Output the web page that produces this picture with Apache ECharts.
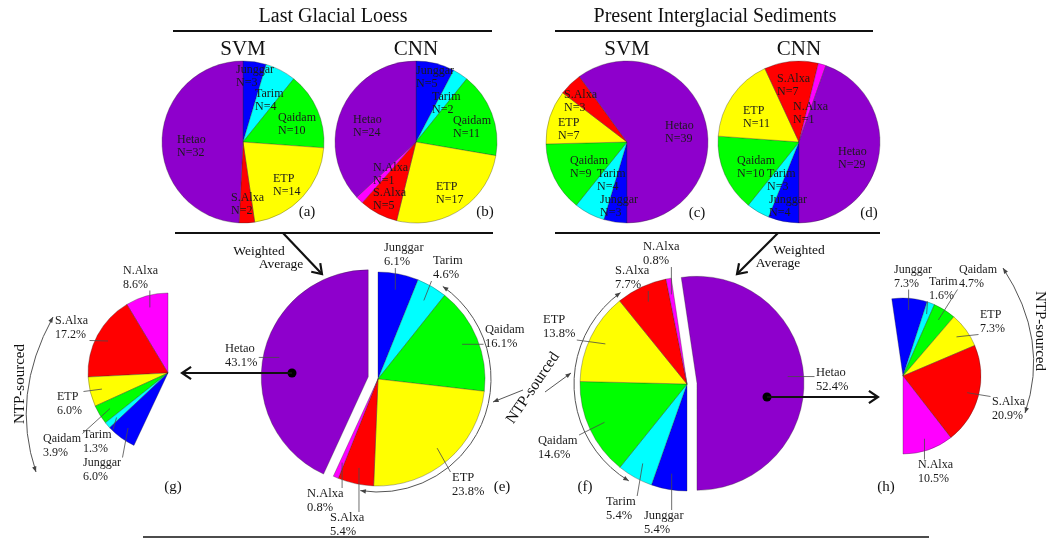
<!DOCTYPE html>
<html>
<head>
<meta charset="utf-8">
<script src="https://cdn.jsdelivr.net/npm/echarts@6/dist/echarts.min.js"></script>
<style>
  html, body { margin: 0; padding: 0; background: #fff; }
  #main { width: 1052px; height: 541px; }
</style>
</head>
<body>
<div id="main"></div>
<script>
// ---- source counts from the two classifiers (N per source region) ----
const loessSvmNames  = ['Junggar', 'Tarim', 'Qaidam', 'ETP', 'S.Alxa', 'Hetao'];
const loessSvmCounts = [3, 4, 10, 14, 2, 32];
const loessCnnNames  = ['Junggar', 'Tarim', 'Qaidam', 'ETP', 'S.Alxa', 'N.Alxa', 'Hetao'];
const loessCnnCounts = [5, 2, 11, 17, 5, 1, 24];
const modernSvmNames  = ['Junggar', 'Tarim', 'Qaidam', 'ETP', 'S.Alxa', 'Hetao'];
const modernSvmCounts = [3, 4, 9, 7, 3, 39];
const modernCnnNames  = ['Junggar', 'Tarim', 'Qaidam', 'ETP', 'S.Alxa', 'N.Alxa', 'Hetao'];
const modernCnnCounts = [4, 3, 10, 11, 7, 1, 29];

// ---- weighted averages (%) ----
const loessAvgNames  = ['Junggar', 'Tarim', 'Qaidam', 'ETP', 'S.Alxa', 'N.Alxa', 'Hetao'];
const loessAvgPct    = [6.1, 4.6, 16.1, 23.8, 5.4, 0.8, 43.1];
const modernAvgNames = ['Junggar', 'Tarim', 'Qaidam', 'ETP', 'S.Alxa', 'N.Alxa', 'Hetao'];
const modernAvgPct   = [5.4, 5.4, 14.6, 13.8, 7.7, 0.8, 52.4];

// ---- Hetao share split into its NTP-sourced parts (%) ----
const loessHetaoNames  = ['N.Alxa', 'S.Alxa', 'ETP', 'Qaidam', 'Tarim', 'Junggar'];
const loessHetaoPct    = [8.6, 17.2, 6.0, 3.9, 1.3, 6.0];
const modernHetaoNames = ['Junggar', 'Tarim', 'Qaidam', 'ETP', 'S.Alxa', 'N.Alxa'];
const modernHetaoPct   = [7.3, 1.6, 4.7, 7.3, 20.9, 10.5];

const PALETTE = {
  'Junggar': '#0000ff', 'Tarim': '#00ffff', 'Qaidam': '#00ff00', 'ETP': '#ffff00',
  'S.Alxa': '#ff0000', 'N.Alxa': '#ff00ff', 'Hetao': '#8e00cc'
};
const SERIF = '"Liberation Serif", "Times New Roman", serif';
const RAD = Math.PI / 180;
const EXPLODE = 10;
const sum = a => a.reduce((s, v) => s + v, 0);

// ---- layout of each pie: centre, radius, start angle, label anchors (dx, dy from centre) ----
const pies = [
  { names: loessSvmNames, values: loessSvmCounts, fmt: 'n', center: [243, 142], r: 81,
    startAngle: 90, clockwise: true, fontSize: 12, lineHeight: 13,
    spots: [[-7, -66], [12, -42], [35, -18], [30, 43], [-12, 62], [-66, 4]] },
  { names: loessCnnNames, values: loessCnnCounts, fmt: 'n', center: [416, 142], r: 81,
    startAngle: 90, clockwise: true, fontSize: 12, lineHeight: 13,
    spots: [[0, -65], [16, -39], [37, -15], [20, 51], [-43, 57], [-43, 32], [-63, -16]] },
  { names: modernSvmNames, values: modernSvmCounts, fmt: 'n', center: [627, 142], r: 81,
    startAngle: -90, clockwise: true, fontSize: 12, lineHeight: 13,
    spots: [[-27, 64], [-30, 38], [-57, 25], [-69, -13], [-63, -41], [38, -10]] },
  { names: modernCnnNames, values: modernCnnCounts, fmt: 'n', center: [799, 142], r: 81,
    startAngle: -90, clockwise: true, fontSize: 12, lineHeight: 13,
    spots: [[-30, 64], [-32, 38], [-62, 25], [-56, -25], [-22, -57], [-6, -29], [39, 16]] },
  { names: loessAvgNames, values: loessAvgPct, fmt: 'p', center: [378, 379], r: 107,
    startAngle: 90, clockwise: true, explode: 'Hetao', leaders: true, fontSize: 12.5, lineHeight: 14,
    spots: [[6, -124], [55, -111], [107, -42], [74, 106], [-48, 146], [-71, 122], [-153, -23]] },
  { names: modernAvgNames, values: modernAvgPct, fmt: 'p', center: [687, 384], r: 107,
    startAngle: -90, clockwise: true, explode: 'Hetao', leaders: true, fontSize: 12.5, lineHeight: 14,
    spots: [[-43, 139], [-81, 125], [-149, 64], [-144, -57], [-72, -106], [-44, -130], [129, -4]] },
  { names: loessHetaoNames, values: loessHetaoPct, fmt: 'p', center: [168, 373], r: 80,
    startAngle: 90, endAngle: 90 + sum(loessHetaoPct) * 3.6, clockwise: false, leaders: true,
    fontSize: 12, lineHeight: 13.5,
    spots: [[-45, -95], [-113, -45], [-111, 31], [-125, 73], [-85, 69], [-85, 97]] },
  { names: modernHetaoNames, values: modernHetaoPct, fmt: 'p', center: [903, 376], r: 78,
    startAngle: -90 + sum(modernHetaoPct) * 3.6, endAngle: -90, clockwise: true, leaders: true,
    fontSize: 12, lineHeight: 13.5,
    spots: [[-9, -99], [26, -87], [56, -99], [77, -54], [89, 33], [15, 96]] }
];

// mid angle of every slice, in degrees clockwise from 12 o'clock
function midAngles(p) {
  const total = sum(p.values);
  const span = p.endAngle == null ? 360 : Math.abs(p.endAngle - p.startAngle);
  const dir = p.clockwise ? 1 : -1;
  let a = 90 - p.startAngle;
  return p.values.map(v => {
    const w = v / total * span;
    const m = a + dir * w / 2;
    a += dir * w;
    return m;
  });
}

function labelText(p, i) {
  const v = p.values[i];
  return p.fmt === 'n' ? [p.names[i], 'N=' + v] : [p.names[i], v.toFixed(1) + '%'];
}

// part: undefined = whole pie, 'rest' = all but the pulled-out slice, 'lifted' = only that slice
function buildSeries(p, part) {
  const mids = midAngles(p);
  let center = p.center;
  if (part === 'lifted') {
    const m = mids[p.names.indexOf(p.explode)] * RAD;
    center = [p.center[0] + EXPLODE * Math.sin(m), p.center[1] - EXPLODE * Math.cos(m)];
  }
  const shown = n => !part || (part === 'rest' ? n !== p.explode : n === p.explode);
  return {
    type: 'pie',
    center: center,
    radius: [0, p.r],
    startAngle: p.startAngle,
    endAngle: p.endAngle == null ? 'auto' : p.endAngle,
    clockwise: p.clockwise,
    avoidLabelOverlap: false,
    animation: false,
    silent: true,
    itemStyle: { borderColor: 'rgba(40,40,40,0.55)', borderWidth: 0.6 },
    label: {
      show: true,
      position: 'outside',
      fontFamily: SERIF,
      fontSize: p.fontSize,
      lineHeight: p.lineHeight,
      color: '#1a1a1a',
      overflow: 'none',
      formatter: d => labelText(p, d.dataIndex).join('\n')
    },
    labelLine: { show: false },
    labelLayout: function (d) {
      const i = d.dataIndex;
      return {
        x: p.center[0] + p.spots[i][0],
        y: p.center[1] + p.spots[i][1],
        align: 'left', verticalAlign: 'middle'
      };
    },
    data: p.names.map((n, i) => ({
      name: n,
      value: p.values[i],
      itemStyle: shown(n) ? { color: PALETTE[n] } : { color: 'rgba(0,0,0,0)', borderWidth: 0 },
      label: { show: shown(n) }
    }))
  };
}

// ---- leader lines: from the label block into the slice ----
const measureCtx = document.createElement('canvas').getContext('2d');
function textWidth(s, size) {
  measureCtx.font = size + 'px ' + SERIF;
  return measureCtx.measureText(s).width;
}
function leaderLines(p) {
  const mids = midAngles(p);
  return p.names.map((n, i) => {
    const lines = labelText(p, i);
    const w = Math.max.apply(null, lines.map(s => textWidth(s, p.fontSize)));
    const h = p.lineHeight * lines.length;
    const x = p.center[0] + p.spots[i][0];
    const y = p.center[1] + p.spots[i][1];
    const m = mids[i] * RAD;
    const rr = 0.85 * p.r + (p.explode === n ? EXPLODE : 0);
    const px = p.center[0] + rr * Math.sin(m);
    const py = p.center[1] - rr * Math.cos(m);
    const qx = Math.min(Math.max(px, x - 1.5), x + w + 1.5);
    const qy = Math.min(Math.max(py, y - h / 2 + 1), y + h / 2 - 1);
    return { type: 'line', z: 90, shape: { x1: qx, y1: qy, x2: px, y2: py },
             style: { stroke: '#4a4a4a', lineWidth: 0.8 } };
  });
}

// ---- annotation helpers ----
function text(x, y, s, size, rot) {
  return {
    type: 'text', x: x, y: y, rotation: (rot || 0) * RAD, z: 100,
    style: {
      text: s, font: size + 'px ' + SERIF, fill: '#111',
      align: 'center', verticalAlign: 'middle',
      textAlign: 'center', textVerticalAlign: 'middle'
    }
  };
}
function rule(x1, y1, x2, y2, w, c) {
  return { type: 'line', z: 100, shape: { x1, y1, x2, y2 }, style: { stroke: c || '#111', lineWidth: w } };
}
function chevron(tx, ty, ang, len, spread, w) {
  const p1 = [tx - len * Math.cos(ang - spread), ty - len * Math.sin(ang - spread)];
  const p2 = [tx - len * Math.cos(ang + spread), ty - len * Math.sin(ang + spread)];
  return { type: 'polyline', z: 100, shape: { points: [p1, [tx, ty], p2] },
           style: { stroke: '#111', lineWidth: w, fill: 'none', lineJoin: 'miter' } };
}
function dart(tx, ty, ang) {
  const len = 6, spread = 0.38;
  const p1 = [tx - len * Math.cos(ang - spread), ty - len * Math.sin(ang - spread)];
  const p2 = [tx - len * Math.cos(ang + spread), ty - len * Math.sin(ang + spread)];
  return { type: 'polygon', z: 100, shape: { points: [p1, [tx, ty], p2] }, style: { fill: '#444' } };
}
function bigArrow(x1, y1, x2, y2) {
  const a = Math.atan2(y2 - y1, x2 - x1);
  return [rule(x1, y1, x2 - 1.5 * Math.cos(a), y2 - 1.5 * Math.sin(a), 2.2), chevron(x2, y2, a, 11, 0.6, 2.2)];
}
function smallArrow(x1, y1, x2, y2) {
  const a = Math.atan2(y2 - y1, x2 - x1);
  return [rule(x1, y1, x2, y2, 0.9, '#444'), dart(x2, y2, a)];
}
// arc around a pie, angles in degrees clockwise from 12 o'clock, arrow at both ends
function ringArrow(cx, cy, r, a1, a2) {
  const s = (a1 - 90) * RAD, e = (a2 - 90) * RAD;
  return [
    { type: 'arc', z: 100, shape: { cx, cy, r, startAngle: s, endAngle: e, clockwise: true },
      style: { stroke: '#555', lineWidth: 1, fill: 'none' } },
    dart(cx + r * Math.cos(s), cy + r * Math.sin(s), Math.atan2(-Math.cos(s), Math.sin(s))),
    dart(cx + r * Math.cos(e), cy + r * Math.sin(e), Math.atan2(Math.cos(e), -Math.sin(e)))
  ];
}
function curveArrow(x1, y1, cx, cy, x2, y2) {
  return [
    { type: 'bezierCurve', z: 100, shape: { x1, y1, x2, y2, cpx1: cx, cpy1: cy },
      style: { stroke: '#555', lineWidth: 1, fill: 'none' } },
    dart(x1, y1, Math.atan2(y1 - cy, x1 - cx)),
    dart(x2, y2, Math.atan2(y2 - cy, x2 - cx))
  ];
}

const graphics = [].concat(
  text(333, 17, 'Last Glacial Loess', 20),
  text(715, 17, 'Present Interglacial Sediments', 20),
  rule(173, 31, 492, 31, 2), rule(555, 31, 873, 31, 2),
  text(243, 49, 'SVM', 21), text(416, 49, 'CNN', 21),
  text(627, 49, 'SVM', 21), text(799, 49, 'CNN', 21),
  text(307, 212, '(a)', 15), text(485, 212, '(b)', 15),
  text(697, 213, '(c)', 15), text(869, 213, '(d)', 15),
  text(502, 487, '(e)', 15), text(585, 487, '(f)', 15),
  text(173, 487, '(g)', 15), text(886, 487, '(h)', 15),
  rule(175, 233, 493, 233, 2), rule(555, 233, 880, 233, 2),
  rule(143, 537, 929, 537, 1.5),
  text(259, 251, 'Weighted', 13.5), text(281, 264, 'Average', 13.5),
  bigArrow(283, 233, 322, 274),
  text(799, 250, 'Weighted', 13.5), text(778, 263, 'Average', 13.5),
  bigArrow(778, 233, 737, 274),
  { type: 'circle', z: 100, shape: { cx: 292, cy: 373, r: 4.5 }, style: { fill: '#000' } },
  bigArrow(292, 373, 182, 373),
  { type: 'circle', z: 100, shape: { cx: 767, cy: 397, r: 4.5 }, style: { fill: '#000' } },
  bigArrow(767, 397, 878, 397),
  ringArrow(378, 379, 113, 35, 189),
  ringArrow(687, 384, 113, 211, 324),
  curveArrow(53, 317, 10, 395, 36, 472),
  curveArrow(1003, 268, 1050, 340, 1025, 413),
  text(533, 388, 'NTP-sourced', 15.5, 56),
  smallArrow(523, 390, 493, 402),
  smallArrow(545, 392, 571, 373),
  text(20, 384, 'NTP-sourced', 15, 90),
  text(1040, 331, 'NTP-sourced', 15, -90)
);
pies.forEach(p => { if (p.leaders) graphics.push.apply(graphics, leaderLines(p)); });

const series = [];
pies.forEach(p => {
  if (p.explode) {
    series.push(buildSeries(p, 'rest'));
    series.push(buildSeries(p, 'lifted'));
  } else {
    series.push(buildSeries(p));
  }
});

const chart = echarts.init(document.getElementById('main'), null, { renderer: 'canvas' });
chart.setOption({
  backgroundColor: '#ffffff',
  animation: false,
  series: series,
  graphic: { elements: graphics }
});
</script>
</body>
</html>
